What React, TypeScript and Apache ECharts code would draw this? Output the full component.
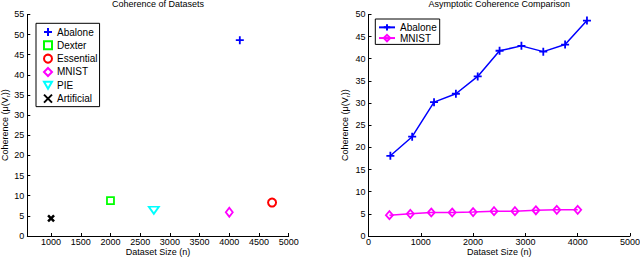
import React, { useEffect, useRef } from "react";
import * as echarts from "echarts";

// Left panel: one point per dataset [size n, coherence]
const leftNames = ["Abalone", "Dexter", "Essential", "MNIST", "PIE", "Artificial"];
const leftPoints: number[][] = [
  [4177, 48.6],
  [2000, 8.8],
  [4720, 8.3],
  [4000, 5.9],
  [2730, 6.4],
  [1000, 4.4],
];
const leftColors = ["#0000ff", "#00ff00", "#ff0000", "#ff00ff", "#00ffff", "#000000"];

// Right panel: asymptotic coherence
const abaloneX = [418, 835, 1253, 1671, 2088, 2506, 2924, 3342, 3759, 4177];
const abaloneY = [18.1, 22.4, 30.2, 32.1, 36.0, 41.8, 42.9, 41.6, 43.2, 48.6];
const mnistX = [400, 800, 1200, 1600, 2000, 2400, 2800, 3200, 3600, 4000];
const mnistY = [4.7, 5.0, 5.3, 5.3, 5.4, 5.6, 5.6, 5.8, 5.9, 5.9];

const leftXTicks = [1000, 1500, 2000, 2500, 3000, 3500, 4000, 4500, 5000];

const FONT = "Liberation Sans, Arial, Helvetica, sans-serif";

const PLUS = "path://M5,0L5,10M0,5L10,5";
const XMARK = "path://M0,0L10,10M0,10L10,0";
const TRI_DOWN = "path://M0,0L10,0L5,8.66Z";

const leftSymbols: any[] = [PLUS, "rect", "circle", "diamond", TRI_DOWN, XMARK];
const leftSizes: any[] = [8, 7, 8, [7, 9], [10, 7], 6];
const leftWidths = [1.8, 1.8, 2, 1.8, 1.8, 2.5];

export default function App() {
  const ref = useRef<HTMLDivElement>(null);
  useEffect(() => {
    if (!ref.current) return;
    const chart = echarts.init(ref.current, undefined, { renderer: "svg" });

    const axisCommon = {
      axisLine: { show: true, lineStyle: { color: "#000", width: 1 } },
      axisTick: { show: true, inside: true, length: 3, lineStyle: { color: "#000" } },
      splitLine: { show: false },
      axisLabel: {
        color: "#000",
        fontSize: 9,
        fontFamily: FONT,
        margin: 3,
        formatter: (v: number) => String(v),
      },
      nameTextStyle: { color: "#000", fontSize: 9, fontFamily: FONT },
      nameMoveOverlap: false,
    };
    const xLabel = { ...axisCommon.axisLabel, margin: 1.5, lineHeight: 9 };
    const xName = { color: "#000", fontSize: 9, fontFamily: FONT, lineHeight: 9 };

    const yName = "Coherence (μ(V{sub|r}))";
    const yNameStyle = {
      color: "#000",
      fontSize: 9,
      fontFamily: FONT,
      lineHeight: 12,
      rich: { sub: { fontSize: 6, fontFamily: FONT, color: "#000", verticalAlign: "bottom", lineHeight: 6 } },
    };

    const leftSeries = leftNames.map((n, i) => ({
      type: "scatter",
      name: n,
      xAxisIndex: 0,
      yAxisIndex: 0,
      data: [leftPoints[i]],
      symbol: leftSymbols[i],
      symbolSize: leftSizes[i],
      itemStyle: {
        color: "rgba(0,0,0,0)",
        borderColor: leftColors[i],
        borderWidth: leftWidths[i],
        opacity: 1,
      },
    }));

    const option: any = {
      animation: false,
      backgroundColor: "#fff",
      grid: [
        { left: 27.3, top: 14.4, width: 261.4, height: 221.6, outerBoundsMode: "none", containLabel: false },
        { left: 368.5, top: 14.4, width: 261.5, height: 221.6, outerBoundsMode: "none", containLabel: false },
      ],
      xAxis: [
        {
          ...axisCommon,
          gridIndex: 0,
          type: "value",
          min: 600,
          max: 5000,
          axisTick: { ...axisCommon.axisTick, customValues: leftXTicks },
          axisLabel: { ...xLabel, customValues: leftXTicks },
          name: "Dataset Size (n)",
          nameLocation: "middle",
          nameGap: 11,
          nameTextStyle: xName,
        },
        {
          ...axisCommon,
          gridIndex: 1,
          type: "value",
          min: 0,
          max: 5000,
          interval: 1000,
          axisLabel: xLabel,
          name: "Dataset Size (n)",
          nameLocation: "middle",
          nameGap: 11,
          nameTextStyle: xName,
        },
      ],
      yAxis: [
        {
          ...axisCommon,
          gridIndex: 0,
          type: "value",
          min: 0,
          max: 55,
          interval: 5,
          name: yName,
          nameLocation: "middle",
          nameGap: 16,
          nameTextStyle: yNameStyle,
        },
        {
          ...axisCommon,
          gridIndex: 1,
          type: "value",
          min: 0,
          max: 50,
          interval: 5,
          name: yName,
          nameLocation: "middle",
          nameGap: 18,
          nameTextStyle: yNameStyle,
        },
      ],
      legend: [
        {
          orient: "vertical",
          left: 36,
          top: 23.3,
          padding: [3.2, 2, 2.5, 7],
          itemWidth: 8,
          itemHeight: 8,
          itemGap: 2.33,
          borderColor: "#000",
          borderWidth: 1,
          backgroundColor: "#fff",
          textStyle: { color: "#000", fontSize: 10, fontFamily: FONT, lineHeight: 11 },
          data: leftNames,
          selectedMode: false,
        },
        {
          orient: "vertical",
          left: 375.3,
          top: 19,
          padding: [3, 3, 1, 2.7],
          itemWidth: 16,
          itemHeight: 8,
          itemGap: 0,
          borderColor: "#000",
          borderWidth: 1,
          backgroundColor: "#fff",
          textStyle: { color: "#000", fontSize: 10, fontFamily: FONT, lineHeight: 10.7 },
          data: ["Abalone ", "MNIST "],
          formatter: (n: string) => n.trim(),
          selectedMode: false,
        },
      ],
      graphic: [
        {
          type: "text",
          x: 158,
          y: 3.5,
          style: {
            text: "Coherence of Datasets",
            fontSize: 9,
            fontFamily: FONT,
            fill: "#000",
            textAlign: "center",
            textVerticalAlign: "middle",
          },
        },
        {
          type: "text",
          x: 499.3,
          y: 3.5,
          style: {
            text: "Asymptotic Coherence Comparison",
            fontSize: 9,
            fontFamily: FONT,
            fill: "#000",
            textAlign: "center",
            textVerticalAlign: "middle",
          },
        },
      ],
      series: [
        ...leftSeries,
        {
          type: "line",
          name: "Abalone ",
          xAxisIndex: 1,
          yAxisIndex: 1,
          data: abaloneX.map((x, i) => [x, abaloneY[i]]),
          symbol: PLUS,
          symbolSize: 8,
          showAllSymbol: true,
          lineStyle: { color: "#0000ff", width: 1.5 },
          itemStyle: { color: "rgba(0,0,0,0)", borderColor: "#0000ff", borderWidth: 1.8 },
        },
        {
          type: "line",
          name: "MNIST ",
          xAxisIndex: 1,
          yAxisIndex: 1,
          data: mnistX.map((x, i) => [x, mnistY[i]]),
          symbol: "diamond",
          symbolSize: [7, 8],
          showAllSymbol: true,
          lineStyle: { color: "#ff00ff", width: 1.5 },
          itemStyle: { color: "rgba(0,0,0,0)", borderColor: "#ff00ff", borderWidth: 1.8 },
        },
      ],
    };

    chart.setOption(option);
    return () => chart.dispose();
  }, []);

  return (
    <div
      ref={ref}
      style={{ position: "fixed", left: 0, top: 0, width: 640, height: 258, background: "#fff" }}
    />
  );
}
